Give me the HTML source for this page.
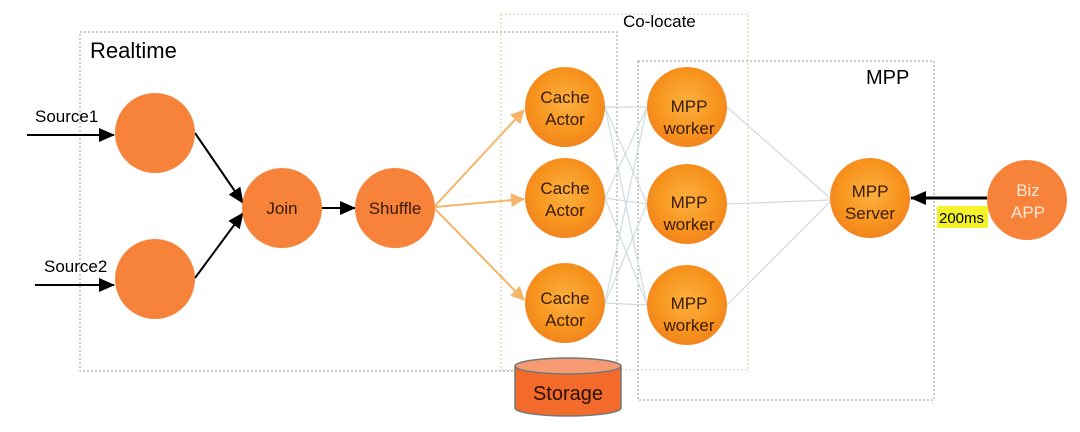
<!DOCTYPE html>
<html><head><meta charset="utf-8"><style>
body{margin:0;background:#fff}
svg text{font-family:"Liberation Sans",sans-serif}
</style></head><body>
<svg width="1080" height="427" viewBox="0 0 1080 427" xmlns="http://www.w3.org/2000/svg">
<defs>
<radialGradient id="g" cx="50%" cy="45%" r="55%">
<stop offset="0" stop-color="#fbb040"/><stop offset="0.7" stop-color="#f7941d"/><stop offset="1" stop-color="#f3841e"/>
</radialGradient>
<marker id="ab" markerWidth="16" markerHeight="16" refX="15" refY="8" orient="auto" markerUnits="userSpaceOnUse"><path d="M0,1 L16,8 L0,15 z" fill="#000"/></marker>
<marker id="ao" markerWidth="14" markerHeight="14" refX="13" refY="7" orient="auto" markerUnits="userSpaceOnUse"><path d="M0,0 L14,7 L0,14 z" fill="#f4b56a"/></marker>
</defs>
<g fill="none" stroke="#999" stroke-width="1" stroke-dasharray="2,2">
<rect x="80" y="32" width="537" height="339"/>
<rect x="501" y="14" width="247" height="356" stroke="#d8c8a8"/>
<rect x="638" y="61" width="296" height="339"/>
</g>
<text x="90" y="58" font-size="22">Realtime</text>
<text x="623" y="27" font-size="17">Co-locate</text>
<text x="866" y="84" font-size="20">MPP</text>
<g stroke="#cfdbe2" stroke-width="1.2">
<line x1="605" y1="107" x2="647" y2="107"/><line x1="605" y1="107" x2="647" y2="204"/><line x1="605" y1="107" x2="647" y2="305"/>
<line x1="605" y1="198" x2="647" y2="107"/><line x1="605" y1="198" x2="647" y2="204"/><line x1="605" y1="198" x2="647" y2="305"/>
<line x1="605" y1="303" x2="647" y2="107"/><line x1="605" y1="303" x2="647" y2="204"/><line x1="605" y1="303" x2="647" y2="305"/>
<line x1="727" y1="107" x2="830" y2="198"/><line x1="727" y1="204" x2="830" y2="200"/><line x1="727" y1="305" x2="830" y2="202"/>
</g>
<g stroke="#000" stroke-width="2">
<line x1="27" y1="135" x2="114" y2="135" marker-end="url(#ab)"/>
<line x1="35" y1="285" x2="114" y2="285" marker-end="url(#ab)"/>
<line x1="195" y1="133" x2="243" y2="203" marker-end="url(#ab)"/>
<line x1="195" y1="278" x2="243" y2="213" marker-end="url(#ab)"/>
<line x1="322" y1="208" x2="355" y2="208" marker-end="url(#ab)"/>
<line x1="987" y1="198" x2="911" y2="198" stroke-width="3" marker-end="url(#ab)"/>
</g>
<g stroke="#f4b56a" stroke-width="2">
<line x1="435" y1="206" x2="524" y2="110" marker-end="url(#ao)"/>
<line x1="435" y1="207" x2="524" y2="199" marker-end="url(#ao)"/>
<line x1="435" y1="209" x2="524" y2="300" marker-end="url(#ao)"/>
</g>
<text x="35" y="122" font-size="17">Source1</text>
<text x="44" y="272" font-size="17">Source2</text>
<g fill="#f7823a">
<circle cx="155" cy="133" r="40"/><circle cx="155" cy="279" r="40"/>
<circle cx="282" cy="208" r="40"/><circle cx="395" cy="208" r="40"/>
<circle cx="1027" cy="200" r="40"/>
</g>
<g fill="url(#g)">
<circle cx="565" cy="107" r="40"/><circle cx="565" cy="198" r="40"/><circle cx="565" cy="303" r="40"/>
<circle cx="687" cy="107" r="40"/><circle cx="687" cy="204" r="40"/><circle cx="687" cy="305" r="40"/>
<circle cx="870" cy="198" r="40"/>
</g>
<g font-size="17" fill="#3a1a00" text-anchor="middle">
<text x="282" y="214">Join</text><text x="395" y="214">Shuffle</text>
<text x="565" y="103">Cache</text><text x="565" y="125">Actor</text>
<text x="565" y="194">Cache</text><text x="565" y="216">Actor</text>
<text x="565" y="304">Cache</text><text x="565" y="326">Actor</text>
<text x="689" y="112">MPP</text><text x="689" y="134">worker</text>
<text x="689" y="208">MPP</text><text x="689" y="230">worker</text>
<text x="689" y="309">MPP</text><text x="689" y="331">worker</text>
<text x="870" y="197">MPP</text><text x="870" y="219">Server</text>
<text x="1028" y="196" fill="#ffe9d6">Biz</text><text x="1028" y="218" fill="#ffe9d6">APP</text>
</g>
<rect x="937" y="206" width="51" height="22" fill="#f4f32a"/>
<text x="939" y="223" font-size="15">200ms</text>
<path d="M515,366 L515,408 A53,8 0 0 0 621,408 L621,366" fill="#f26b2a" stroke="#777" stroke-width="1.5"/>
<ellipse cx="568" cy="366" rx="53" ry="8" fill="#f59a72" stroke="#777" stroke-width="1.5"/>
<text x="568" y="400" font-size="20" text-anchor="middle" fill="#2a1000">Storage</text>
</svg>
</body></html>
